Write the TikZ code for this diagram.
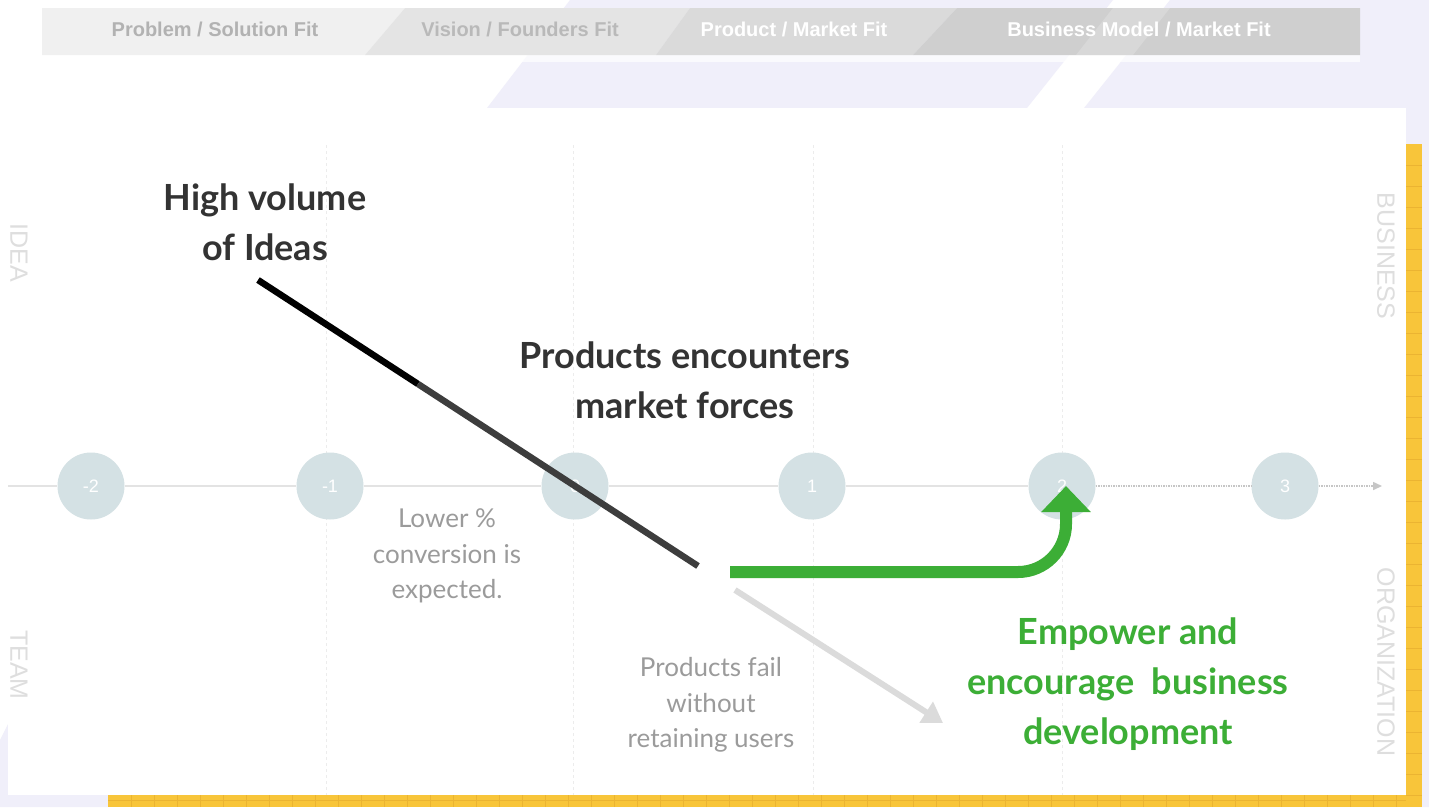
\documentclass[tikz,border=0pt]{standalone}
\usepackage{fontspec}
\setmainfont{Lato}
\newfontfamily\arialfont{Liberation Sans}
\usetikzlibrary{arrows.meta}
\definecolor{lavender}{HTML}{F0EFFA}
\definecolor{darktext}{HTML}{333333}
\definecolor{remarkgray}{HTML}{9B9B9B}
\definecolor{sidegray}{HTML}{DEDEDE}
\definecolor{bizgreen}{HTML}{3CAE36}
\definecolor{dotblue}{HTML}{D4E1E4}
\definecolor{gridyellow}{HTML}{F8C53A}
\definecolor{gridline}{HTML}{EBB432}

\begin{document}
\begin{tikzpicture}[x=1pt,y=-1pt,
		stage/.style={font=\arialfont\bfseries\fontsize{20}{20}\selectfont},
		milestone/.style={circle,fill=dotblue,minimum size=67pt,inner sep=0pt,text=white,font=\arialfont\fontsize{18}{18}\selectfont},
		headline/.style={align=center,text=darktext,font=\bfseries\fontsize{36}{50}\selectfont},
		remark/.style={align=center,text=remarkgray,font=\fontsize{26}{35.5}\selectfont},
		sidelabel/.style={rotate=-90,text=sidegray,font=\arialfont\fontsize{25}{25}\selectfont}]
		\useasboundingbox (0,0) rectangle (1429,807);
		% background stripes
		\fill[white] (0,0) rectangle (1429,807);
		\fill[lavender] (570,0) -- (1113,0) -- (1027,108) -- (487,108) -- cycle;
		\fill[lavender] (1170,0) -- (1429,0) -- (1429,807) -- (528,807) -- cycle;
		\fill[lavender] (0,740) -- (9,722) -- (110,722) -- (110,807) -- (0,807) -- cycle;
		% stage bar
		\fill[white,opacity=0.7] (42,55) rectangle (1360,62);
		\fill[gray!12] (42,8) -- (405,8) -- (365,55) -- (42,55) -- cycle;
		\fill[gray!21] (405,8) -- (690,8) -- (656,55) -- (365,55) -- cycle;
		\fill[gray!29] (690,8) -- (957,8) -- (913,55) -- (656,55) -- cycle;
		\fill[gray!38] (957,8) -- (1360,8) -- (1360,55) -- (913,55) -- cycle;
		\fill[white,opacity=0.2] (1113,8) -- (1170,8) -- (1133,55) -- (1076,55) -- cycle;
		\node[stage,text=gray!60] (problem) at (215,29) {Problem / Solution Fit};
		\node[stage,text=gray!55] (vision) at (520,29) {Vision / Founders Fit};
		\node[stage,text=white] (product) at (794,29) {Product / Market Fit};
		\node[stage,text=white] (business) at (1139,29) {Business Model / Market Fit};
		% panel and yellow grid
		\fill[white] (8,108) rectangle (1406,795);
		\fill[gridyellow] (108,795) rectangle (1422,807);
		\fill[gridyellow] (1406,144) rectangle (1422,807);
		\foreach \y in {165,186,...,795} \draw[gridline,thin] (1406,\y) -- (1422,\y);
		\foreach \x in {131,154,...,1406} \draw[gridline,thin] (\x,795) -- (\x,807);
		\draw[gridline,thin] (108,800) -- (1406,800);
		\foreach \x in {326,573,813,1062} \draw[gray!15,dashed] (\x,145) -- (\x,795);
		% side labels
		\node[sidelabel] (idea) at (19,253) {IDEA};
		\node[sidelabel] (team) at (19,665) {TEAM};
		\node[sidelabel] (biz) at (1386,256) {BUSINESS};
		\node[sidelabel] (org) at (1386,662) {ORGANIZATION};
		% timeline
		\foreach \x/\n [count=\i] in {91/-2,330/-1,575/0,812/1,1062/2,1285/3}
			\node[milestone] (m\i) at (\x,486) {\n};
		\coordinate (axisstart) at (8,486);
		\coordinate (axisend) at (1382,486);
		\draw[gray!22,line width=2.5pt] (axisstart) -- (m1.west) (m1.east) -- (m2.west) (m2.east) -- (m3.west)
			(m3.east) -- (m4.west) (m4.east) -- (m5.west);
		\draw[gray!45,densely dotted,line width=1.5pt] (m5.east) -- (m6.west);
		\draw[gray!45,densely dotted,line width=1.5pt][-{Triangle[length=9pt,width=8pt]}] (m6.east) -- (axisend);
		% idea funnel
		\coordinate (ideas) at (258,280);
		\coordinate (turn) at (418,384);
		\coordinate (fork) at (698,566);
		\coordinate (gostart) at (730,572);
		\coordinate (failstart) at (735,590);
		\coordinate (failend) at (943,723);
		\draw[black,line width=6.5pt] (ideas) -- (turn);
		\draw[darktext!95,line width=6.5pt] (turn) -- (fork);
		\draw[bizgreen,line width=12pt,rounded corners=48pt][-{Triangle[length=26pt,width=48pt]}]
			(gostart) -| ([xshift=4pt]m5.center);
		\draw[gray!28,line width=6pt][-{Triangle[length=20pt,width=24pt]}] (failstart) -- (failend);
		% texts
		\node[headline] (volume) at (265,222) {High volume\\of Ideas};
		\node[headline] (forces) at (685,380) {Products encounters\\market forces};
		\node[remark] (lower) at (447,556) {Lower \%\\conversion is\\expected.};
		\node[remark] (fail) at (711,705) {Products fail\\without\\retaining users};
		\node[headline,text=bizgreen] (empower) at (1128,684) {Empower and\\encourage~ business\\development};
	\end{tikzpicture}
\end{document}
